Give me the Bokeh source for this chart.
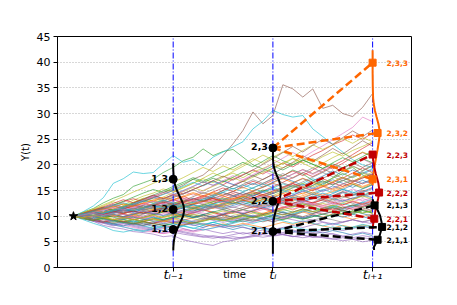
from bokeh.plotting import figure
from bokeh.models import Range1d, FixedTicker
from bokeh.core.properties import value
from bokeh.embed import file_html
from bokeh.resources import INLINE

# ---------------- data ----------------
T = [0.0, 0.1, 0.2, 0.3, 0.4, 0.5, 0.6, 0.7, 0.8, 0.9, 1.0,
     1.1, 1.2, 1.3, 1.4, 1.5, 1.6, 1.7, 1.8, 1.9, 2.0,
     2.1, 2.2, 2.3, 2.4, 2.5, 2.6, 2.7, 2.8, 2.9, 3.0]

p00 = [10, 10.4, 9.8, 10.6, 11.2, 10.7, 11.5, 12.1, 11.6, 12.3, 12.0, 12.8, 13.5, 12.9, 13.8, 14.6, 14.0, 13.2, 13.9, 14.8, 15.3, 14.6, 15.5, 16.2, 15.4, 16.3, 17.1, 16.4, 15.6, 16.5, 17.2]
p01 = [10, 9.6, 10.1, 9.5, 9.0, 9.6, 10.2, 9.7, 10.4, 11.0, 10.5, 10.0, 10.7, 11.3, 10.8, 10.1, 9.6, 10.2, 9.8, 10.5, 11.1, 11.8, 11.2, 12.0, 12.7, 12.1, 11.4, 12.2, 13.0, 12.4, 13.1]
p02 = [10, 10.8, 11.5, 12.6, 13.5, 14.2, 15.8, 16.5, 17.2, 18.5, 19.5, 20.8, 21.5, 23.1, 21.8, 22.6, 23.0, 21.5, 20.0, 19.2, 18.5, 17.8, 19.0, 18.2, 17.0, 16.0, 17.5, 18.8, 19.5, 18.0, 17.2]
p03 = [10, 10.5, 11.1, 10.6, 11.4, 12.0, 11.3, 12.2, 12.9, 12.4, 13.2, 13.9, 13.1, 13.8, 14.7, 15.5, 14.8, 15.9, 16.8, 16.1, 17.0, 17.9, 18.8, 17.9, 19.0, 20.1, 19.2, 20.3, 21.5, 22.4, 21.6]
p04 = [10, 9.5, 9.0, 8.2, 7.8, 7.5, 7.0, 6.8, 6.5, 6.0, 6.2, 5.4, 5.0, 4.6, 4.3, 5.0, 5.3, 5.8, 6.2, 6.5, 6.8, 6.5, 6.0, 6.3, 5.9, 5.9, 5.6, 5.2, 5.5, 5.0, 5.3]
p05 = [10, 10.6, 11.2, 10.8, 11.7, 12.4, 12.0, 13.1, 13.8, 14.6, 15.2, 16.0, 17.2, 18.0, 19.6, 21.8, 24.1, 26.7, 30.3, 28.0, 29.6, 35.6, 34.8, 33.2, 34.8, 31.0, 31.6, 30.0, 29.4, 31.2, 33.9]
p06 = [10, 9.7, 9.2, 8.8, 8.3, 7.9, 7.4, 7.1, 6.9, 6.6, 7.0, 7.5, 7.1, 7.8, 8.4, 8.0, 8.7, 9.3, 8.9, 9.6, 10.2, 9.7, 10.4, 11.0, 10.5, 11.3, 12.0, 11.4, 12.1, 12.8, 12.2]
p07 = [10, 10.3, 10.9, 11.4, 10.8, 11.5, 12.2, 11.7, 12.4, 11.9, 12.6, 12.0, 11.3, 11.9, 12.5, 11.8, 12.4, 13.1, 12.6, 13.3, 12.7, 13.4, 12.8, 12.1, 12.7, 13.5, 12.9, 13.6, 14.3, 13.7, 14.4]
p08 = [10, 10.6, 11.3, 12.0, 12.8, 12.2, 13.1, 13.9, 14.5, 15.3, 14.8, 15.6, 16.4, 17.3, 16.5, 17.6, 18.4, 17.5, 18.6, 19.3, 20.2, 19.4, 20.3, 21.4, 20.5, 21.6, 22.5, 21.7, 22.8, 23.6, 24.5]
p09 = [10, 10.9, 12.0, 13.6, 16.4, 17.3, 18.6, 18.3, 18.5, 20.2, 21.8, 20.5, 21.0, 19.8, 21.5, 22.5, 23.5, 24.5, 27.0, 28.5, 30.6, 29.8, 29.3, 29.6, 27.0, 25.5, 24.0, 22.5, 21.0, 20.0, 19.5]
p10 = [10, 9.6, 9.1, 9.7, 9.2, 8.6, 9.1, 8.5, 8.0, 8.6, 8.2, 8.8, 8.3, 7.8, 8.4, 7.9, 7.4, 7.9, 7.3, 7.8, 7.2, 7.7, 7.1, 6.6, 7.1, 6.7, 7.2, 6.8, 6.3, 6.7, 6.2]
p11 = [10, 10.5, 10.1, 10.8, 11.4, 11.0, 10.4, 11.1, 11.7, 11.2, 11.9, 12.5, 11.9, 11.2, 11.8, 12.6, 13.3, 12.7, 13.5, 14.2, 13.6, 14.4, 15.1, 14.3, 15.2, 16.0, 15.3, 16.2, 17.0, 16.3, 17.1]
p12 = [10, 9.5, 9.9, 9.3, 8.8, 9.3, 8.7, 9.2, 9.8, 9.3, 9.9, 10.5, 10.0, 9.4, 9.9, 9.3, 8.8, 9.3, 9.9, 9.4, 8.9, 9.4, 10.0, 9.5, 10.2, 9.7, 10.4, 11.0, 10.4, 11.1, 10.6]
p13 = [10, 10.4, 10.9, 11.5, 12.1, 12.8, 13.4, 12.8, 13.6, 14.3, 15.0, 14.3, 15.2, 16.0, 16.9, 16.1, 17.2, 18.1, 19.0, 18.2, 19.3, 20.4, 19.6, 20.8, 21.9, 22.8, 23.9, 24.7, 25.8, 25.0, 26.2]
p14 = [10, 9.8, 9.3, 8.9, 9.4, 8.8, 8.3, 8.8, 8.2, 7.7, 8.1, 7.6, 7.1, 7.5, 7.0, 6.6, 7.0, 6.5, 6.9, 7.3, 6.8, 6.4, 6.0, 6.3, 5.9, 6.2, 6.6, 6.1, 5.8, 6.2, 5.9]
p15 = [10, 10.4, 10.9, 10.3, 10.8, 11.4, 12.1, 11.5, 12.2, 12.9, 12.3, 13.0, 13.8, 14.6, 14.0, 15.0, 15.9, 16.8, 16.1, 17.2, 18.1, 17.3, 18.2, 19.1, 18.3, 19.2, 18.4, 19.4, 20.3, 19.5, 20.4]
p16 = [10, 10.3, 10.8, 11.4, 10.9, 11.6, 12.3, 13.0, 13.8, 13.2, 14.0, 14.8, 14.1, 15.0, 15.9, 16.8, 16.1, 17.0, 17.9, 18.8, 18.0, 17.3, 18.2, 19.0, 18.1, 19.1, 20.0, 19.2, 20.3, 21.1, 20.2]
p17 = [10, 9.7, 10.2, 9.8, 9.3, 9.9, 10.5, 10.0, 10.6, 11.2, 10.7, 10.2, 10.8, 10.3, 9.8, 10.4, 11.0, 10.5, 10.0, 10.6, 10.1, 9.6, 10.2, 9.7, 9.2, 9.7, 9.3, 8.8, 9.3, 8.9, 9.4]
p18 = [10, 10.6, 11.2, 11.8, 11.2, 11.9, 12.5, 13.2, 12.6, 13.3, 14.0, 14.8, 15.6, 14.9, 15.8, 16.6, 17.5, 16.7, 17.6, 18.5, 19.4, 20.3, 21.3, 20.4, 21.2, 20.3, 21.4, 22.3, 21.4, 22.5, 21.7]
p19 = [10, 9.6, 9.2, 8.7, 8.3, 7.9, 7.5, 7.2, 7.6, 7.2, 7.6, 8.1, 7.6, 8.2, 8.8, 8.3, 8.9, 9.5, 9.0, 9.7, 10.3, 9.8, 10.5, 11.1, 10.5, 11.2, 11.9, 11.3, 12.0, 12.7, 12.1]
p20 = [10, 10.5, 11.0, 11.6, 12.3, 11.7, 12.5, 13.2, 14.0, 13.4, 14.2, 15.0, 15.8, 16.7, 16.0, 16.9, 16.2, 15.5, 16.4, 15.7, 16.6, 17.5, 16.8, 16.0, 16.9, 17.8, 18.8, 18.0, 19.0, 18.2, 19.1]
p21 = [10, 9.6, 9.2, 9.7, 9.3, 8.8, 8.4, 8.9, 8.5, 9.0, 9.5, 9.1, 8.6, 9.1, 9.7, 10.3, 9.8, 10.4, 11.0, 10.5, 11.2, 10.7, 10.2, 10.8, 10.3, 9.8, 10.4, 9.9, 9.4, 9.9, 10.5]
p22 = [10, 10.4, 11.0, 11.6, 12.2, 12.9, 13.7, 14.5, 15.2, 14.6, 15.5, 16.3, 17.2, 16.5, 17.4, 16.7, 17.6, 18.6, 17.8, 18.8, 19.8, 19.0, 20.0, 21.0, 20.1, 19.3, 20.4, 21.4, 20.6, 21.6, 22.7]
p23 = [10, 9.7, 9.3, 9.8, 10.3, 9.9, 9.4, 9.0, 9.5, 9.1, 8.7, 9.2, 9.7, 10.2, 9.7, 10.3, 10.9, 10.4, 11.0, 11.6, 11.1, 11.7, 12.4, 13.1, 12.5, 13.2, 13.9, 14.7, 14.0, 14.8, 15.6]
p24 = [10, 9.5, 9.0, 8.6, 8.1, 8.5, 8.0, 7.6, 7.2, 6.8, 7.2, 6.8, 6.4, 6.0, 5.7, 6.0, 6.4, 6.8, 6.4, 6.8, 7.2, 6.8, 7.3, 6.9, 6.5, 6.9, 6.5, 6.1, 6.5, 6.9, 6.5]
p25 = [10, 10.3, 10.8, 10.3, 10.9, 11.5, 11.0, 11.7, 12.3, 11.8, 12.5, 13.2, 12.6, 13.4, 14.2, 15.0, 15.9, 16.8, 17.9, 17.1, 18.2, 19.4, 20.5, 21.8, 20.7, 21.9, 23.2, 22.1, 23.4, 24.7, 23.6]
p26 = [10, 9.8, 9.4, 9.0, 8.6, 8.2, 7.8, 7.4, 7.0, 6.6, 6.9, 7.3, 6.9, 7.3, 7.7, 8.2, 7.8, 8.3, 8.8, 9.4, 8.9, 9.5, 10.1, 9.6, 10.2, 10.9, 11.6, 11.0, 11.7, 12.5, 13.2]
p27 = [10, 10.4, 10.0, 10.5, 11.1, 10.6, 11.3, 12.0, 11.4, 12.1, 12.8, 12.2, 12.9, 12.3, 11.7, 12.4, 13.1, 13.9, 13.2, 14.0, 13.3, 12.7, 12.1, 12.8, 13.6, 13.0, 12.4, 13.1, 12.5, 11.9, 12.6]
p28 = [10, 10.7, 11.4, 12.2, 13.0, 13.8, 14.7, 15.5, 16.4, 17.2, 16.6, 17.5, 18.5, 19.5, 18.7, 19.8, 19.0, 20.1, 21.2, 20.3, 21.5, 22.5, 21.6, 22.8, 23.9, 23.0, 23.9, 25.1, 24.2, 25.3, 24.5]
p29 = [10, 9.3, 8.6, 8.0, 7.2, 6.9, 7.3, 7.0, 7.5, 8.0, 7.6, 8.1, 8.7, 8.2, 8.8, 9.4, 8.9, 9.5, 10.1, 9.6, 10.2, 10.9, 10.3, 11.0, 11.7, 11.1, 11.8, 12.5, 11.9, 12.7, 13.4]
p30 = [10, 10.2, 10.7, 11.2, 10.7, 11.3, 10.8, 11.4, 12.0, 11.5, 11.0, 11.6, 12.2, 11.7, 12.4, 13.1, 12.5, 13.2, 12.6, 12.0, 12.7, 13.4, 14.1, 13.5, 14.3, 13.6, 14.4, 15.2, 14.5, 15.3, 16.1]
p31 = [10, 9.7, 9.3, 8.9, 9.4, 9.0, 8.5, 9.0, 9.6, 9.1, 8.7, 8.3, 8.8, 8.4, 8.0, 8.5, 8.1, 8.6, 8.2, 7.8, 8.3, 8.8, 8.4, 8.9, 8.5, 8.1, 7.7, 8.2, 7.8, 8.3, 7.9]
p32 = [10, 10.5, 11.1, 11.7, 11.2, 11.9, 12.6, 13.4, 14.1, 14.9, 15.8, 16.6, 17.5, 16.8, 17.7, 18.6, 19.5, 20.5, 19.6, 20.7, 21.8, 20.8, 20.0, 20.9, 20.1, 19.3, 20.2, 19.4, 20.3, 21.2, 20.4]
p33 = [10, 10.3, 9.9, 10.4, 9.9, 10.5, 11.0, 10.5, 11.1, 11.7, 11.2, 11.8, 12.4, 13.1, 12.5, 13.2, 14.0, 13.3, 14.1, 14.9, 15.7, 16.6, 17.5, 18.5, 17.7, 18.7, 19.8, 20.8, 22.0, 23.2, 24.3]
p34 = [10, 9.6, 9.1, 8.7, 8.3, 8.7, 8.2, 7.8, 7.4, 7.7, 7.3, 7.0, 6.6, 6.3, 6.0, 5.7, 6.0, 5.7, 6.0, 6.4, 6.1, 6.4, 6.1, 5.8, 6.1, 5.8, 5.5, 5.8, 5.5, 5.8, 5.5]
p35 = [10, 10.4, 9.9, 10.4, 10.9, 10.4, 9.9, 10.4, 10.9, 11.5, 11.0, 10.5, 11.0, 11.6, 12.2, 11.7, 11.1, 11.7, 12.3, 11.8, 12.4, 13.1, 12.5, 13.2, 13.9, 13.3, 14.0, 14.8, 14.2, 15.0, 14.4]
p36 = [10, 10.5, 11.0, 11.6, 12.2, 11.7, 12.4, 13.1, 13.9, 14.7, 14.1, 14.9, 15.8, 16.7, 16.0, 16.9, 17.9, 17.1, 18.1, 19.1, 20.2, 21.3, 22.4, 21.4, 22.6, 23.7, 24.9, 26.1, 27.3, 29.3, 28.4]
p37 = [10, 9.6, 10.0, 9.5, 9.0, 9.4, 8.9, 8.5, 8.9, 8.4, 8.9, 9.4, 8.9, 9.4, 10.0, 9.5, 10.1, 9.6, 9.1, 9.6, 10.2, 10.8, 10.2, 10.8, 11.5, 10.9, 11.6, 11.0, 11.7, 12.4, 11.8]
p38 = [10, 10.6, 11.2, 10.7, 11.3, 12.0, 12.7, 13.5, 12.9, 13.7, 14.6, 15.5, 16.4, 17.4, 18.4, 17.6, 18.7, 19.7, 20.8, 21.9, 21.0, 20.1, 21.2, 20.3, 19.4, 20.4, 19.6, 18.8, 19.7, 18.9, 19.8]
p39 = [10, 10.4, 10.9, 11.4, 12.0, 12.6, 12.1, 12.8, 13.5, 14.2, 15.0, 15.8, 16.6, 15.9, 16.8, 16.0, 15.3, 16.1, 15.4, 14.7, 15.5, 16.3, 15.6, 16.4, 17.3, 16.5, 17.4, 18.3, 17.5, 18.4, 19.3]
p40 = [10, 9.7, 9.3, 8.9, 8.5, 8.1, 8.6, 8.2, 8.7, 9.2, 9.7, 10.2, 9.7, 10.3, 10.9, 10.4, 11.0, 10.5, 11.1, 11.7, 11.2, 10.7, 10.2, 9.7, 10.2, 9.7, 10.3, 9.8, 10.4, 9.9, 9.4]
p41 = [10, 10.4, 10.9, 11.4, 11.9, 11.4, 12.0, 12.6, 13.2, 12.6, 13.2, 13.9, 14.6, 14.0, 14.7, 14.1, 14.8, 15.6, 14.9, 15.7, 16.5, 17.3, 16.5, 17.4, 16.6, 15.9, 16.7, 17.6, 16.8, 17.7, 16.9]
p42 = [10, 9.5, 9.1, 9.6, 9.2, 8.8, 9.3, 8.9, 9.4, 9.9, 10.4, 10.9, 11.5, 11.0, 11.6, 12.2, 12.8, 12.2, 12.9, 13.6, 13.0, 12.4, 11.8, 12.4, 11.8, 11.2, 11.7, 11.1, 10.6, 11.1, 10.6]
p43 = [10, 10.6, 11.2, 11.8, 12.5, 13.2, 12.6, 13.3, 14.1, 13.4, 14.2, 13.5, 12.9, 13.6, 12.9, 13.7, 14.4, 13.7, 14.5, 13.8, 14.6, 15.4, 16.3, 15.5, 16.4, 17.3, 16.5, 17.4, 18.4, 19.4, 18.5]
p44 = [10, 9.6, 9.2, 8.8, 9.2, 8.8, 8.4, 8.0, 7.6, 7.2, 6.9, 6.5, 6.2, 5.9, 6.2, 5.9, 5.6, 5.9, 6.2, 5.9, 6.2, 6.5, 6.8, 7.2, 6.8, 7.2, 7.6, 7.2, 7.6, 8.0, 7.6]
p45 = [10, 9.7, 10.1, 9.7, 10.2, 9.8, 10.3, 10.8, 10.3, 10.8, 10.3, 9.8, 10.3, 9.8, 9.3, 9.8, 9.3, 8.9, 9.4, 8.9, 9.4, 9.9, 10.4, 9.9, 10.5, 11.1, 10.6, 11.2, 10.7, 11.3, 10.8]
p46 = [10, 10.3, 10.7, 10.2, 10.7, 11.2, 11.8, 11.3, 11.9, 12.5, 13.2, 12.6, 13.3, 14.0, 13.3, 14.0, 14.8, 14.1, 13.4, 14.1, 13.4, 12.8, 13.5, 12.9, 13.6, 14.4, 13.7, 14.5, 15.3, 14.6, 15.4]
p47 = [10, 10.5, 11.1, 10.6, 11.2, 11.8, 12.4, 11.8, 12.4, 13.0, 12.4, 11.8, 12.4, 13.1, 13.8, 14.6, 13.9, 14.7, 15.5, 16.4, 17.3, 18.3, 17.4, 18.4, 19.4, 18.5, 19.6, 18.7, 19.8, 18.9, 20.0]
p48 = [10, 9.6, 9.2, 9.7, 10.2, 9.7, 10.2, 10.8, 10.3, 10.9, 11.5, 12.2, 11.6, 12.3, 13.0, 12.4, 13.1, 13.9, 14.7, 14.0, 14.8, 15.6, 14.9, 15.7, 16.6, 15.8, 16.7, 17.6, 16.8, 17.7, 18.6]
p49 = [10, 9.7, 9.3, 8.9, 8.5, 8.9, 8.5, 8.1, 7.7, 8.1, 8.5, 8.1, 7.7, 7.3, 7.7, 8.1, 8.6, 9.1, 8.6, 9.1, 9.6, 9.1, 8.6, 9.1, 8.6, 8.1, 8.6, 8.1, 7.7, 8.1, 7.7]
p50 = [10, 10.3, 10.8, 10.4, 10.9, 11.5, 11.0, 10.5, 11.0, 11.6, 12.2, 11.7, 12.3, 13.0, 13.7, 13.1, 13.8, 14.6, 13.9, 14.7, 14.0, 13.4, 14.1, 14.9, 14.2, 15.0, 15.9, 15.2, 16.1, 17.0, 16.2]
p51 = [10, 9.6, 9.9, 9.5, 10.0, 10.5, 10.0, 9.6, 10.1, 9.7, 10.2, 10.8, 11.4, 12.0, 11.5, 12.1, 12.8, 12.2, 11.6, 12.2, 12.9, 13.6, 13.0, 13.7, 14.4, 13.8, 13.2, 13.9, 13.3, 14.0, 14.7]
p52 = [10, 10.4, 10.0, 9.6, 10.1, 9.7, 9.3, 9.8, 10.3, 10.8, 11.4, 12.0, 11.5, 12.1, 12.8, 13.5, 12.9, 13.6, 14.3, 15.1, 14.4, 15.2, 16.0, 15.2, 16.0, 16.9, 16.1, 17.0, 16.2, 15.4, 16.2]
p53 = [10, 9.7, 9.2, 8.8, 9.3, 8.9, 9.4, 9.0, 8.6, 9.1, 9.6, 10.1, 10.6, 11.2, 10.7, 10.2, 10.7, 11.3, 11.9, 11.4, 10.9, 11.5, 12.1, 11.6, 12.3, 11.7, 11.2, 11.8, 11.3, 11.9, 12.5]
p54 = [10, 10.3, 9.9, 10.3, 10.8, 10.3, 9.8, 9.4, 9.9, 9.4, 9.0, 8.6, 8.2, 8.6, 8.2, 7.8, 8.2, 7.8, 7.4, 7.8, 7.4, 7.8, 8.2, 7.8, 8.3, 8.8, 8.3, 8.8, 9.3, 8.8, 9.3]
p55 = [10, 10.5, 11.0, 11.6, 11.1, 11.7, 12.3, 12.9, 13.6, 13.0, 13.7, 14.4, 15.2, 16.0, 16.9, 17.8, 17.0, 18.0, 19.0, 20.1, 21.2, 22.4, 23.6, 22.5, 23.8, 25.0, 24.0, 25.3, 26.6, 25.5, 26.8]
p56 = [10, 9.7, 9.4, 9.0, 9.4, 9.9, 9.5, 10.0, 10.5, 11.0, 10.5, 11.0, 10.5, 11.1, 11.7, 11.2, 10.7, 11.2, 10.7, 11.3, 11.9, 12.6, 12.0, 12.7, 12.1, 11.6, 12.2, 12.9, 13.6, 13.0, 13.7]
p57 = [10, 10.4, 10.9, 11.4, 12.0, 11.5, 12.1, 11.6, 12.2, 12.9, 13.6, 14.3, 15.1, 14.4, 15.2, 16.0, 15.3, 16.2, 17.1, 16.4, 17.3, 16.5, 15.8, 16.7, 17.6, 18.5, 17.7, 16.9, 17.8, 18.8, 19.8]
p58 = [10, 9.6, 10.0, 10.5, 10.0, 10.5, 11.1, 11.7, 11.2, 11.8, 12.4, 13.0, 12.4, 13.0, 12.4, 11.9, 12.5, 13.2, 12.6, 13.3, 14.0, 14.8, 15.6, 16.4, 15.7, 16.5, 17.4, 18.3, 17.5, 18.4, 17.6]
p59 = [10, 10.3, 9.9, 9.5, 9.0, 9.4, 8.9, 9.3, 9.8, 9.3, 9.8, 9.3, 8.9, 8.4, 8.8, 8.3, 7.9, 8.3, 7.9, 7.5, 7.1, 7.5, 7.9, 7.5, 7.1, 7.5, 7.9, 7.5, 7.9, 8.4, 8.0]
p60 = [10, 10.2, 9.8, 10.3, 10.7, 11.2, 10.8, 11.3, 10.9, 11.4, 11.9, 11.4, 11.0, 11.5, 12.0, 11.5, 12.1, 12.6, 12.1, 11.6, 12.1, 12.7, 13.3, 12.8, 13.4, 14.0, 13.4, 12.9, 13.5, 14.1, 13.6]
p61 = [10, 9.8, 10.2, 10.6, 10.2, 9.8, 10.3, 10.8, 11.3, 10.8, 11.3, 11.8, 12.4, 12.9, 13.5, 13.0, 13.6, 13.1, 12.6, 13.2, 13.8, 14.4, 13.8, 14.5, 15.1, 15.8, 15.1, 15.8, 16.5, 15.8, 16.5]
p62 = [10, 10.3, 10.6, 10.2, 9.8, 9.4, 9.8, 9.4, 9.0, 9.4, 9.8, 10.3, 9.8, 10.3, 10.8, 11.3, 10.8, 11.3, 10.8, 10.3, 10.8, 11.3, 10.8, 11.4, 10.9, 11.5, 12.1, 11.6, 12.2, 11.7, 12.3]
p63 = [10, 9.7, 10.0, 10.4, 10.9, 11.4, 11.9, 12.5, 12.0, 12.6, 13.2, 12.7, 13.3, 14.0, 13.4, 12.8, 13.4, 14.1, 14.8, 14.2, 14.9, 15.6, 16.4, 15.7, 15.0, 15.7, 16.5, 15.8, 16.6, 17.4, 18.2]
p64 = [10, 10.2, 9.9, 9.5, 9.1, 9.5, 9.9, 9.5, 9.1, 8.7, 9.1, 8.7, 9.1, 9.6, 9.2, 8.8, 9.2, 9.7, 10.2, 9.7, 9.3, 9.7, 9.3, 8.9, 9.3, 8.9, 8.5, 8.9, 9.3, 8.9, 8.5]
p65 = [10, 10.4, 10.1, 10.6, 11.0, 10.6, 11.1, 11.6, 12.1, 12.7, 12.2, 12.8, 13.4, 12.9, 13.5, 14.1, 14.8, 14.2, 14.9, 15.6, 16.4, 15.7, 16.5, 17.3, 16.6, 17.4, 18.2, 17.4, 16.7, 17.5, 18.3]
p66 = [10, 9.6, 10.0, 10.4, 10.0, 10.4, 10.0, 9.6, 10.0, 10.5, 11.0, 10.5, 11.0, 10.6, 10.1, 10.6, 11.1, 10.7, 11.2, 11.8, 12.4, 11.9, 11.4, 12.0, 12.6, 12.1, 12.7, 13.3, 12.8, 13.4, 12.9]
p67 = [10, 10.1, 10.5, 11.0, 10.6, 11.1, 11.6, 11.2, 11.7, 12.2, 11.7, 12.2, 11.7, 12.3, 11.8, 11.3, 11.8, 11.3, 11.8, 12.4, 11.9, 12.5, 12.0, 12.6, 12.1, 12.7, 13.3, 13.9, 13.3, 14.0, 14.6]
p68 = [10, 9.7, 9.4, 9.8, 9.4, 9.0, 9.4, 9.0, 9.4, 9.0, 9.4, 9.9, 10.4, 10.0, 10.5, 11.0, 10.5, 10.1, 10.6, 10.2, 10.7, 11.2, 11.8, 12.4, 11.9, 12.5, 12.0, 12.6, 13.2, 13.9, 13.3]
p69 = [10, 10.5, 10.1, 10.6, 11.2, 11.8, 12.4, 13.0, 12.5, 13.1, 12.6, 12.1, 12.7, 13.3, 14.0, 14.7, 15.4, 14.8, 15.5, 16.3, 15.6, 15.0, 14.4, 15.1, 14.5, 15.2, 14.6, 15.3, 14.7, 14.1, 14.8]
p70 = [10, 9.9, 9.5, 9.9, 10.4, 9.9, 10.4, 10.9, 10.5, 10.1, 10.6, 10.2, 9.7, 10.2, 9.8, 10.3, 9.8, 10.3, 9.9, 9.4, 9.9, 10.4, 9.9, 9.5, 9.9, 10.4, 10.9, 10.4, 11.0, 10.5, 10.0]
p71 = [10, 10.3, 10.8, 11.3, 11.8, 12.4, 11.9, 12.5, 13.1, 13.7, 13.1, 13.7, 14.4, 13.8, 14.5, 13.9, 13.3, 13.9, 13.3, 12.8, 13.4, 12.8, 13.4, 14.0, 14.7, 14.1, 14.8, 15.5, 16.3, 15.6, 16.4]
p72 = [10, 9.6, 9.2, 9.6, 9.2, 8.8, 8.5, 8.9, 8.5, 8.2, 8.6, 9.0, 8.6, 9.0, 9.5, 9.1, 9.6, 10.1, 9.7, 10.2, 9.8, 9.3, 9.8, 9.4, 9.9, 10.4, 10.0, 10.5, 11.0, 10.6, 11.1]
p73 = [10, 10.4, 10.8, 10.4, 10.9, 10.5, 11.0, 10.6, 11.1, 11.6, 12.1, 12.7, 12.2, 12.8, 13.4, 12.9, 12.4, 13.0, 13.6, 14.2, 13.6, 13.1, 13.7, 13.1, 12.6, 13.2, 12.7, 12.2, 12.8, 12.3, 12.9]
p74 = [10, 10.2, 10.6, 10.2, 10.6, 11.0, 10.6, 11.0, 10.6, 10.2, 10.6, 11.1, 10.7, 11.2, 11.7, 12.2, 11.7, 12.3, 11.8, 12.4, 12.9, 13.5, 14.1, 14.8, 15.5, 14.8, 15.5, 16.3, 17.0, 16.3, 17.1]
p75 = [10, 9.8, 9.4, 9.0, 8.6, 9.0, 8.6, 8.2, 8.6, 8.2, 7.9, 8.3, 8.7, 9.2, 9.6, 9.2, 9.7, 9.3, 9.8, 10.3, 10.8, 10.3, 10.8, 11.4, 10.9, 10.4, 10.9, 11.5, 12.1, 11.6, 11.1]
p76 = [10, 10.3, 10.7, 11.2, 11.7, 11.2, 11.7, 12.3, 12.9, 12.4, 12.9, 13.5, 13.0, 12.5, 13.1, 12.6, 13.2, 12.7, 13.3, 13.9, 13.3, 12.8, 12.3, 12.9, 12.4, 11.9, 12.5, 12.0, 11.5, 12.1, 11.6]
p77 = [10, 10.0, 10.4, 10.0, 10.5, 11.0, 11.5, 11.1, 11.6, 11.1, 10.7, 11.2, 11.7, 11.2, 11.8, 12.4, 13.0, 13.6, 13.0, 13.7, 14.4, 15.1, 15.9, 15.2, 16.0, 16.8, 16.1, 16.9, 17.7, 18.6, 17.8]
p78 = [10, 9.7, 10.1, 9.7, 9.3, 9.7, 9.3, 9.7, 10.2, 9.8, 10.3, 9.9, 9.5, 9.1, 9.5, 9.1, 9.5, 10.0, 9.6, 10.1, 10.6, 10.2, 10.7, 11.2, 10.8, 11.3, 10.9, 10.5, 11.0, 10.6, 11.1]
p79 = [10, 10.4, 10.9, 10.5, 11.0, 11.5, 11.1, 11.6, 12.1, 11.6, 12.2, 11.7, 12.2, 11.8, 12.3, 12.9, 12.4, 12.9, 12.4, 13.0, 12.5, 13.1, 13.7, 13.2, 13.8, 14.5, 13.9, 14.6, 14.0, 14.7, 15.4]

paths = [p00, p01, p02, p03, p04, p05, p06, p07, p08, p09,
         p10, p11, p12, p13, p14, p15, p16, p17, p18, p19,
         p20, p21, p22, p23, p24, p25, p26, p27, p28, p29,
         p30, p31, p32, p33, p34, p35, p36, p37, p38, p39,
         p40, p41, p42, p43, p44, p45, p46, p47, p48, p49,
         p50, p51, p52, p53, p54, p55, p56, p57, p58, p59,
         p60, p61, p62, p63, p64, p65, p66, p67, p68, p69,
         p70, p71, p72, p73, p74, p75, p76, p77, p78, p79]

tab10 = ["#1f77b4", "#ff7f0e", "#2ca02c", "#d62728", "#9467bd",
         "#8c564b", "#e377c2", "#7f7f7f", "#bcbd22", "#17becf"]

start_t = [0.0]
start_y = [10.0]

node_t = [1.0, 2.0, 3.0]
node_tick_labels = ["tᵢ₋₁", "tᵢ", "tᵢ₊₁"]
y_ticks = [0, 5, 10, 15, 20, 25, 30, 35, 40, 45]

lvl1_y = [7.4, 11.3, 17.2]
lvl1_lab = ["1,1", "1,2", "1,3"]
lvl2_y = [7.0, 12.9, 23.3]
lvl2_lab = ["2,1", "2,2", "2,3"]

# children at t_{i+1}: (y value, density offset)
c21_y = [5.4, 7.9, 12.1]
c21_off = [0.05, 0.095, 0.02]
c21_lab = ["2,1,1", "2,1,2", "2,1,3"]
c22_y = [9.5, 14.6, 22.0]
c22_off = [0.017, 0.065, 0.0]
c22_lab = ["2,2,1", "2,2,2", "2,2,3"]
c23_y = [17.2, 26.2, 39.9]
c23_off = [0.0, 0.05, 0.0]
c23_lab = ["2,3,1", "2,3,2", "2,3,3"]

# density curves (y value, horizontal offset in time units)
d1_y = [3.3, 4, 5, 6, 7, 8, 9, 10, 11, 12, 13, 14, 15, 16, 17, 18, 19, 20.3]
d1_off = [0.001, 0.002, 0.006, 0.015, 0.030, 0.052, 0.077, 0.099, 0.110, 0.105, 0.087, 0.062, 0.038, 0.020, 0.009, 0.004, 0.001, 0.0]
d2_y = [2.7, 6, 8, 9, 10, 11, 12, 13, 14, 15, 16, 17, 18, 19, 20, 21, 23.3]
d2_off = [0.0, 0.0, 0.002, 0.006, 0.015, 0.028, 0.045, 0.062, 0.075, 0.080, 0.076, 0.060, 0.038, 0.018, 0.006, 0.001, 0.0]
d3a_y = [3.4, 4.0, 5.3, 6.2, 7.9, 8.8, 10.1, 11.4, 12.4, 13.3]
d3a_off = [0.015, 0.013, 0.05, 0.07, 0.095, 0.09, 0.075, 0.045, 0.013, 0.0]
d3b_y = [7.5, 8.5, 9.5, 10.2, 11.1, 11.9, 12.7, 13.5, 14.4, 15.4, 16.4, 17.3, 18.3, 19.5, 21.0, 22.5]
d3b_off = [0.0, 0.006, 0.017, 0.022, 0.028, 0.038, 0.048, 0.056, 0.064, 0.065, 0.058, 0.046, 0.031, 0.017, 0.005, 0.0]
d3c_y = [16.0, 17.2, 18.5, 20.0, 21.5, 23.0, 24.5, 25.5, 26.7, 28.0, 29.3, 30.5, 31.9, 33.0, 35.0, 38.0, 42.3]
d3c_off = [0.0, 0.003, 0.01, 0.022, 0.036, 0.05, 0.062, 0.069, 0.07, 0.058, 0.04, 0.024, 0.011, 0.005, 0.002, 0.0, 0.0]

ORANGE = "#ff6600"
DARKRED = "#c00000"
BLACK = "black"
FONT = "DejaVu Sans"

# ---------------- figure ----------------
p = figure(width=441, height=289, output_backend="svg", toolbar_location=None,
           x_range=Range1d(-0.16, 3.39), y_range=Range1d(0, 45),
           min_border_left=57, min_border_right=30, min_border_top=36, min_border_bottom=22)
p.background_fill_color = "white"
p.border_fill_color = "white"
p.outline_line_color = "black"
p.outline_line_width = 1

p.xgrid.visible = False
p.ygrid.grid_line_color = "#b0b0b0"
p.ygrid.grid_line_dash = "1 2"
p.ygrid.grid_line_width = 1

p.xaxis.ticker = FixedTicker(ticks=node_t)
p.xaxis.major_label_overrides = {t: s for t, s in zip(node_t, node_tick_labels)}
p.yaxis.ticker = FixedTicker(ticks=y_ticks)
for ax in (p.xaxis[0], p.yaxis[0]):
    ax.minor_tick_line_color = None
    ax.major_tick_in = 0
    ax.major_tick_out = 4
    ax.major_tick_line_color = "black"
    ax.axis_line_color = "black"
    ax.major_label_text_font = FONT
    ax.major_label_text_font_size = "11px"
    ax.major_label_text_color = "black"
    ax.axis_label_text_font = FONT
    ax.axis_label_text_font_size = "10px"
    ax.axis_label_text_font_style = "normal"
    ax.axis_label_text_color = "black"
    ax.major_label_standoff = 3
p.xaxis.major_label_text_font_style = "italic"
p.xaxis.major_label_text_font_size = "13px"
p.xaxis.major_label_text_align = "left"
p.xaxis.major_label_standoff = -5
p.xaxis.axis_label = "time"
p.xaxis.axis_label_standoff = -16
p.yaxis.axis_label = "Y(t)"
p.yaxis.axis_label_standoff = 3

# simulated paths
p.multi_line(xs=[T] * len(paths), ys=paths,
             line_color=[tab10[i % 10] for i in range(len(paths))],
             line_alpha=0.7, line_width=0.9)

# vertical dash-dot lines at the time nodes
p.segment(x0=node_t, y0=[y_ticks[0]] * 3, x1=node_t, y1=[y_ticks[-1]] * 3,
          line_color="blue", line_dash="6 2 1 2", line_width=1)

# density curves
def dens(t0, ys, offs, color):
    p.line([t0 + o for o in offs], ys, line_color=color, line_width=2)

dens(node_t[0], d1_y, d1_off, BLACK)
dens(node_t[1], d2_y, d2_off, BLACK)
dens(node_t[2], d3c_y, d3c_off, ORANGE)
dens(node_t[2], d3b_y, d3b_off, DARKRED)
dens(node_t[2], d3a_y, d3a_off, BLACK)

# dashed branches from t_i to t_{i+1}
groups = [(lvl2_y[0], c21_y, c21_off, c21_lab, BLACK),
          (lvl2_y[1], c22_y, c22_off, c22_lab, DARKRED),
          (lvl2_y[2], c23_y, c23_off, c23_lab, ORANGE)]
for y0, cy, co, cl, col in groups:
    cx = [node_t[2] + o for o in co]
    p.segment(x0=[node_t[1]] * 3, y0=[y0] * 3, x1=cx, y1=cy,
              line_color=col, line_width=2.5, line_dash="8 4")
    p.scatter(cx, cy, marker="square", size=7, color=col)
    p.text([node_t[2]] * 3, cy, text=cl, x_offset=14, text_align="left",
           text_baseline="middle", text_color=col, text_font=value(FONT),
           text_font_style="bold", text_font_size="7.5px")

# start star
p.scatter(start_t, start_y, marker="star", size=9, color="black")

# nodes at t_{i-1} and t_i
p.scatter([node_t[0]] * 3, lvl1_y, marker="circle", size=8, color="black")
p.scatter([node_t[1]] * 3, lvl2_y, marker="circle", size=8, color="black")
p.text([node_t[0]] * 3, lvl1_y, text=lvl1_lab, x_offset=-5, y_offset=-1,
       text_align="right", text_baseline="middle", text_color="black",
       text_font=value(FONT), text_font_style="bold", text_font_size="9.5px")
p.text([node_t[1]] * 3, lvl2_y, text=lvl2_lab, x_offset=-5, y_offset=-1,
       text_align="right", text_baseline="middle", text_color="black",
       text_font=value(FONT), text_font_style="bold", text_font_size="9.5px")

open("out.html", "w").write(file_html(p, INLINE))
